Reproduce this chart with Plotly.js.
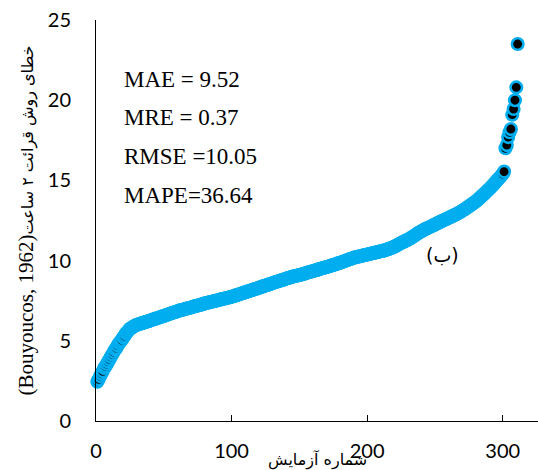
<!DOCTYPE html>
<html>
<head>
<meta charset="utf-8">
<script src="https://cdn.plot.ly/plotly-3.0.1.min.js"></script>
<style>html,body{margin:0;padding:0;background:#fff;}#chart{width:538px;height:470px;}</style>
</head>
<body>
<div id="chart"></div>
<script>
// Error of the 2-hour hydrometer reading, sorted ascending, by sample number
const errorValues = [
  2.45, 2.6, 2.8, 2.95, 3.1, 3.3, 3.4, 3.55, 3.7, 3.85,
  4.0, 4.15, 4.3, 4.45, 4.55, 4.7, 4.85, 4.95, 5.05, 5.2,
  5.3, 5.45, 5.55, 5.65, 5.75, 5.8, 5.85, 5.9, 5.95, 6.0,
  6.02, 6.05, 6.08, 6.1, 6.13, 6.16, 6.18, 6.2, 6.23, 6.26,
  6.3, 6.33, 6.36, 6.38, 6.41, 6.44, 6.47, 6.5, 6.52, 6.55,
  6.58, 6.61, 6.64, 6.67, 6.7, 6.73, 6.76, 6.78, 6.81, 6.84,
  6.87, 6.9, 6.92, 6.94, 6.96, 6.99, 7.01, 7.03, 7.06, 7.08,
  7.1, 7.13, 7.15, 7.18, 7.2, 7.22, 7.25, 7.27, 7.3, 7.32,
  7.35, 7.37, 7.39, 7.41, 7.43, 7.45, 7.47, 7.49, 7.51, 7.53,
  7.56, 7.58, 7.6, 7.62, 7.64, 7.66, 7.68, 7.7, 7.72, 7.75,
  7.78, 7.8, 7.83, 7.86, 7.88, 7.91, 7.94, 7.96, 7.99, 8.02,
  8.05, 8.08, 8.1, 8.13, 8.16, 8.19, 8.22, 8.24, 8.27, 8.3,
  8.33, 8.36, 8.39, 8.42, 8.45, 8.48, 8.5, 8.53, 8.56, 8.59,
  8.62, 8.65, 8.68, 8.7, 8.73, 8.76, 8.78, 8.81, 8.84, 8.87,
  8.9, 8.92, 8.95, 8.97, 9.0, 9.02, 9.04, 9.06, 9.08, 9.1,
  9.12, 9.15, 9.17, 9.2, 9.22, 9.25, 9.27, 9.3, 9.32, 9.35,
  9.37, 9.4, 9.42, 9.45, 9.47, 9.5, 9.52, 9.55, 9.57, 9.6,
  9.62, 9.65, 9.68, 9.7, 9.73, 9.76, 9.78, 9.81, 9.84, 9.87,
  9.9, 9.93, 9.96, 9.99, 10.02, 10.05, 10.08, 10.11, 10.14, 10.17,
  10.2, 10.22, 10.24, 10.26, 10.28, 10.3, 10.32, 10.34, 10.36, 10.38,
  10.4, 10.42, 10.44, 10.46, 10.48, 10.5, 10.52, 10.54, 10.56, 10.58,
  10.6, 10.62, 10.64, 10.67, 10.7, 10.73, 10.76, 10.79, 10.83, 10.87,
  10.91, 10.95, 11.0, 11.05, 11.1, 11.14, 11.18, 11.22, 11.26, 11.3,
  11.35, 11.4, 11.45, 11.5, 11.56, 11.62, 11.68, 11.73, 11.78, 11.83,
  11.88, 11.93, 11.97, 12.01, 12.05, 12.09, 12.13, 12.17, 12.21, 12.25,
  12.3, 12.34, 12.38, 12.42, 12.46, 12.5, 12.54, 12.58, 12.62, 12.66,
  12.7, 12.74, 12.78, 12.82, 12.86, 12.9, 12.95, 13.0, 13.05, 13.1,
  13.15, 13.2, 13.26, 13.32, 13.38, 13.44, 13.5, 13.56, 13.62, 13.68,
  13.75, 13.82, 13.9, 13.98, 14.06, 14.14, 14.22, 14.3, 14.38, 14.46,
  14.55, 14.64, 14.73, 14.82, 14.92, 15.02, 15.12, 15.2, 15.3, 15.4,
  15.55, 17.0, 17.2, 17.7, 18.0, 18.2, 19.1, 19.45, 20.0, 20.8,
  23.5
];
// sample numbers (1..N)
const sampleNumbers = errorValues.map((_, i) => i + 1);

const xTickVals = [0, 100, 200, 300];
const yTickVals = [0, 5, 10, 15, 20, 25];

const statLabels = ["MAE = 9.52", "MRE = 0.37", "RMSE =10.05", "MAPE=36.64"];
const statY = [21.3, 18.9, 16.46, 14.09];

const xTitle = "شماره آزمایش";
const yTitleLatin = "(Bouyoucos, 1962)";
const yTitlePersian = "خطای روش قرائت ۲ ساعت";
const panelLabel = "(ب)";

const trace = {
  x: sampleNumbers,
  y: errorValues,
  type: "scatter",
  mode: "markers",
  cliponaxis: false,
  marker: {
    size: 11.5,
    color: "#000000",
    line: { color: "#00AEEF", width: 2.6 }
  },
  hoverinfo: "x+y"
};

const annotations = statLabels.map((t, i) => ({
  text: t, x: 19.2, y: statY[i], xref: "x", yref: "y",
  xanchor: "left", yanchor: "middle", showarrow: false,
  font: { family: "Liberation Serif, Times New Roman, serif", size: 23, color: "#000" }
}));
annotations.push({
  text: panelLabel, x: 255.4, y: 10.35, xref: "x", yref: "y",
  xanchor: "center", yanchor: "middle", showarrow: false,
  font: { family: "DejaVu Sans, sans-serif", size: 19, color: "#000" }
});
annotations.push({
  text: xTitle, x: 0.5, y: 0, xref: "paper", yref: "paper",
  xanchor: "center", yanchor: "middle", yshift: -39, showarrow: false,
  font: { family: "DejaVu Sans, sans-serif", size: 16, color: "#000" }
});

const layout = {
  width: 538, height: 470,
  margin: { l: 96, r: 0, t: 20, b: 49 },
  paper_bgcolor: "#fff", plot_bgcolor: "#fff",
  showlegend: false,
  xaxis: {
    range: [0, 326], tickvals: xTickVals, ticks: "inside", ticklen: 6, tickcolor: "#000",
    showline: true, linecolor: "#000", linewidth: 1, showgrid: false, zeroline: false,
    ticklabelstandoff: 12,
    tickfont: { family: "Lato, sans-serif", size: 20, color: "#000" }
  },
  yaxis: {
    range: [0, 25], tickvals: yTickVals, ticks: "",
    showline: true, linecolor: "#000", linewidth: 1, showgrid: false, zeroline: false,
    ticklabelstandoff: 20,
    tickfont: { family: "Lato, sans-serif", size: 20, color: "#000" },
    title: {
      text: '<span style="font-family:\'Liberation Serif\', serif;font-size:21px">' + yTitleLatin + '</span>' + yTitlePersian,
      standoff: 10,
      font: { family: "DejaVu Sans, sans-serif", size: 16, color: "#000" }
    }
  },
  annotations: annotations
};

Plotly.newPlot("chart", [trace], layout, { displayModeBar: false, staticPlot: true });
</script>
</body>
</html>
